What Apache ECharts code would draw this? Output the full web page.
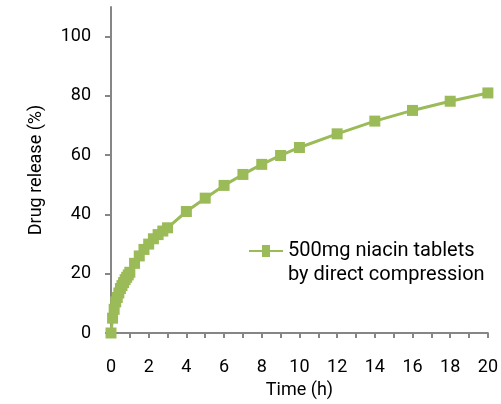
<!DOCTYPE html>
<html>
<head>
<meta charset="utf-8">
<script src="https://cdn.jsdelivr.net/npm/echarts@6/dist/echarts.min.js"></script>
<style>
  html, body { margin: 0; padding: 0; background: #fff; }
  #chart { width: 501px; height: 404px; }
</style>
</head>
<body>
<div id="chart"></div>
<script>
// Sampling times (h) and cumulative niacin release (%)
var times = [0, 0.083, 0.167, 0.25, 0.333, 0.417, 0.5, 0.583, 0.667, 0.75, 0.833, 0.917, 1,
             1.25, 1.5, 1.75, 2, 2.25, 2.5, 2.75, 3, 4, 5, 6, 7, 8, 9, 10, 12, 14, 16, 18, 20];
var release = [0, 5, 8, 10.5, 12, 13.5, 15, 16, 17, 18, 18.8, 19.6, 20.5,
               23.5, 26, 28.2, 30, 31.8, 33.2, 34.4, 35.5, 41, 45.5, 49.8, 53.5, 56.9, 59.9, 62.6,
               67.2, 71.5, 75.1, 78.2, 81];
var seriesName = '500mg niacin tablets\nby direct compression';
var yTicks = [0, 20, 40, 60, 80, 100];

var FONT = 'Roboto';
var AXIS_GRAY = '#868686';
var GREEN = '#9BBB59';

var chart = echarts.init(document.getElementById('chart'), null, { renderer: 'canvas' });

chart.setOption({
  backgroundColor: '#ffffff',
  animation: false,
  textStyle: { fontFamily: FONT, color: '#000' },
  grid: { left: 111, right: 12, top: 7, bottom: 70, containLabel: false },
  legend: {
    left: 244,
    top: 210,
    orient: 'vertical',
    itemWidth: 34,
    itemHeight: 12,
    itemGap: 0,
    // a blank leading line keeps the marker level with the first line of the name
    formatter: function (name) { return ' \n' + name; },
    textStyle: { fontFamily: FONT, fontSize: 20, color: '#000', lineHeight: 24 },
    data: [{ name: seriesName, icon: 'path://M0,5 L13,5 L13,0 L21,0 L21,5 L34,5 L34,7 L21,7 L21,12 L13,12 L13,7 L0,7 Z' }]
  },
  xAxis: {
    type: 'value',
    min: 0,
    max: 20,
    interval: 2,
    name: 'Time (h)',
    nameLocation: 'middle',
    nameGap: 48,
    nameTextStyle: { fontFamily: FONT, fontSize: 18, color: '#000' },
    axisLine: { show: true, onZero: false, lineStyle: { color: AXIS_GRAY, width: 2 } },
    axisTick: { show: true, inside: false, length: 5, lineStyle: { color: AXIS_GRAY, width: 2 } },
    minorTick: { show: true, splitNumber: 2, length: 5, lineStyle: { color: AXIS_GRAY, width: 2 } },
    axisLabel: { fontFamily: FONT, fontSize: 18, color: '#000', margin: 25 },
    splitLine: { show: false }
  },
  yAxis: {
    type: 'value',
    min: 0,
    max: 110,
    interval: 20,
    name: 'Drug release (%)',
    nameLocation: 'middle',
    nameGap: 66,
    nameRotate: 90,
    nameTextStyle: { fontFamily: FONT, fontSize: 18, color: '#000' },
    axisLine: { show: true, lineStyle: { color: AXIS_GRAY, width: 2 } },
    axisTick: { show: true, inside: false, length: 6, customValues: yTicks, lineStyle: { color: AXIS_GRAY, width: 2 } },
    axisLabel: { fontFamily: FONT, fontSize: 18, color: '#000', margin: 20, customValues: yTicks },
    splitLine: { show: false }
  },
  series: [{
    name: seriesName,
    type: 'line',
    data: times.map(function (t, i) { return [t, release[i]]; }),
    symbol: 'rect',
    symbolSize: 11,
    showSymbol: true,
    lineStyle: { color: GREEN, width: 3 },
    itemStyle: { color: GREEN },
    z: 3
  }]
});
</script>
</body>
</html>
